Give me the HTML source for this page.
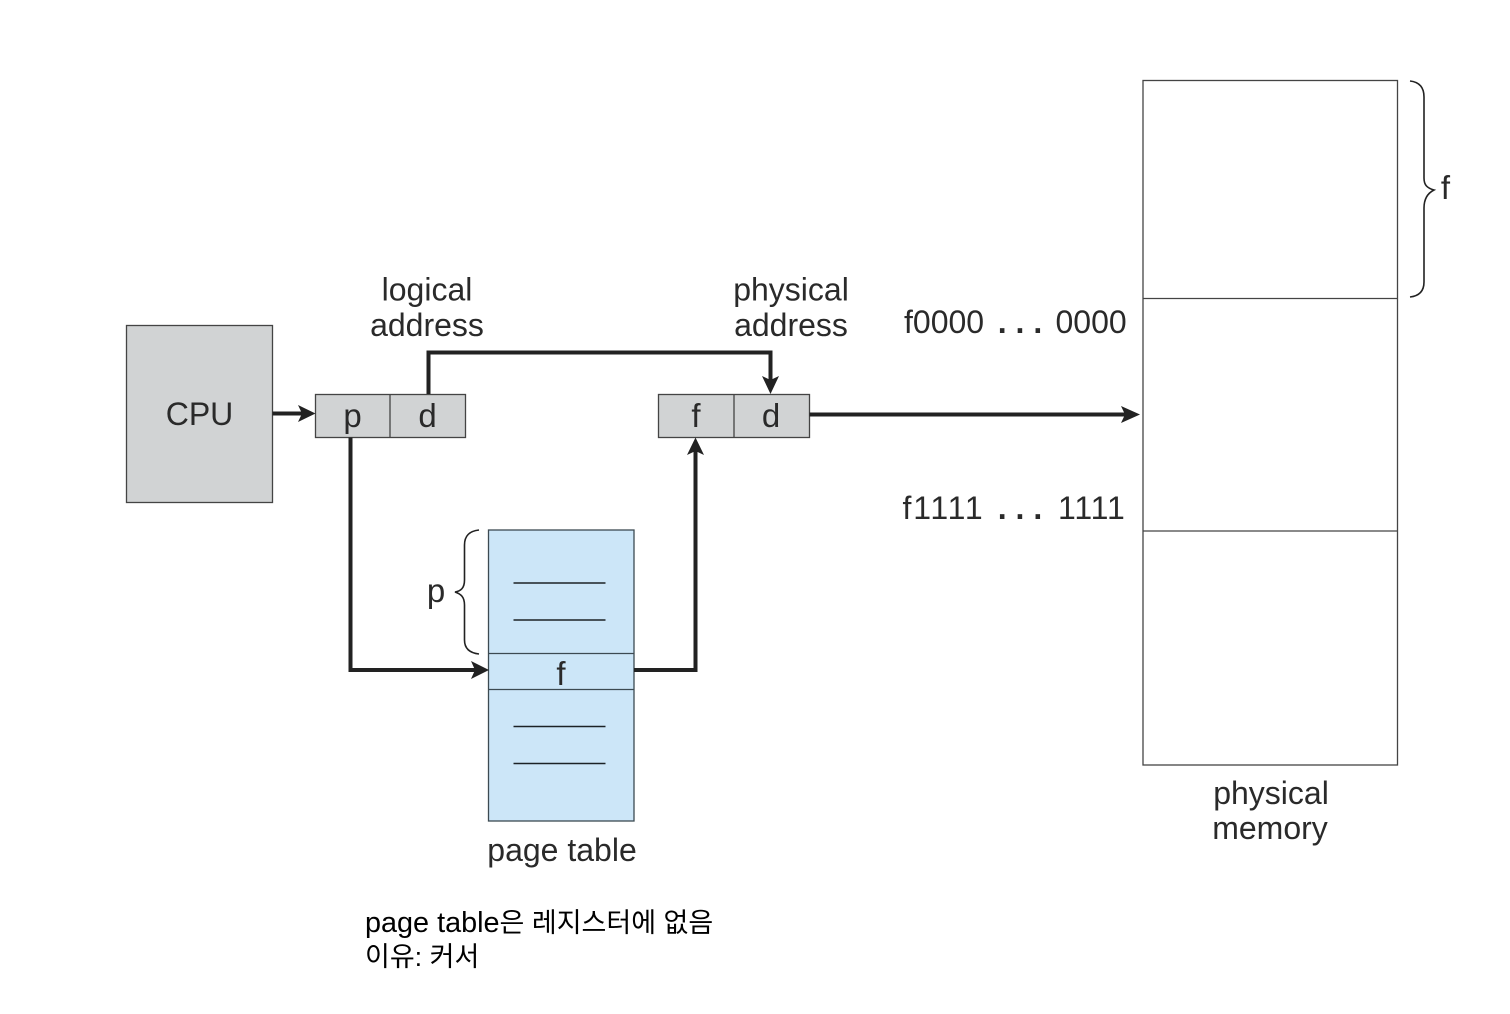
<!DOCTYPE html>
<html lang="ko">
<head>
<meta charset="utf-8">
<title>Paging hardware</title>
<style>
html,body{margin:0;padding:0;background:#fff}
svg{display:block}
text{font-family:"Liberation Sans","Noto Sans CJK KR",sans-serif;fill:#2a2a2a}
</style>
</head>
<body>
<svg width="1510" height="1014" viewBox="0 0 1510 1014" xmlns="http://www.w3.org/2000/svg">
<rect width="1510" height="1014" fill="#fff"/>

<!-- CPU -->
<rect x="126.5" y="325.5" width="146" height="177" fill="#d1d3d4" stroke="#444" stroke-width="1.3"/>
<text x="199.5" y="425" font-size="32" text-anchor="middle">CPU</text>

<!-- logical address box -->
<rect x="315.5" y="394.5" width="150" height="43" fill="#d1d3d4" stroke="#444" stroke-width="1.3"/>
<line x1="390" y1="394.5" x2="390" y2="437.5" stroke="#444" stroke-width="1.3"/>
<text x="352.5" y="427" font-size="33" text-anchor="middle">p</text>
<text x="427.5" y="427" font-size="33" text-anchor="middle">d</text>

<!-- physical address box -->
<rect x="658.5" y="394.5" width="151" height="43" fill="#d1d3d4" stroke="#444" stroke-width="1.3"/>
<line x1="734" y1="394.5" x2="734" y2="437.5" stroke="#444" stroke-width="1.3"/>
<text x="696" y="427" font-size="33" text-anchor="middle">f</text>
<text x="771" y="427" font-size="33" text-anchor="middle">d</text>

<!-- page table -->
<rect x="488.5" y="530" width="145.5" height="291" fill="#cce6f8" stroke="#3c4a52" stroke-width="1.3"/>
<line x1="488.5" y1="653.5" x2="634" y2="653.5" stroke="#3c4a52" stroke-width="1.3"/>
<line x1="488.5" y1="689.5" x2="634" y2="689.5" stroke="#3c4a52" stroke-width="1.3"/>
<g stroke="#1c2226" stroke-width="1.5">
<line x1="513.5" y1="583" x2="605.5" y2="583"/>
<line x1="513.5" y1="620" x2="605.5" y2="620"/>
<line x1="513.5" y1="726.5" x2="605.5" y2="726.5"/>
<line x1="513.5" y1="763.5" x2="605.5" y2="763.5"/>
</g>
<text x="562" y="861" font-size="32" text-anchor="middle">page table</text>
<text x="561" y="685" font-size="33" text-anchor="middle">f</text>

<!-- p brace -->
<path d="M479 530 C470 531 464.5 535 464.5 545 L464.5 580 C464.5 588 461 591 455 592 C461 594 464.5 597 464.5 605 L464.5 640 C464.5 649 470 653 479 654" fill="none" stroke="#222" stroke-width="1.6"/>
<text x="436" y="602" font-size="33" text-anchor="middle">p</text>

<!-- memory -->
<rect x="1143" y="80.5" width="254.5" height="684.5" fill="#fff" stroke="#444" stroke-width="1.3"/>
<line x1="1143" y1="298.5" x2="1397.5" y2="298.5" stroke="#444" stroke-width="1.3"/>
<line x1="1143" y1="531" x2="1397.5" y2="531" stroke="#444" stroke-width="1.3"/>
<text x="1271" y="804" font-size="32" text-anchor="middle">physical</text>
<text x="1270" y="839" font-size="32" text-anchor="middle">memory</text>

<!-- f brace -->
<path d="M1410 81 C1419 82 1424 87 1424 97 L1424 178 C1424 185 1427 188 1434 190 C1428 193 1424 198 1424 208 L1424 282 C1424 291 1419 296 1410 297" fill="none" stroke="#222" stroke-width="1.6"/>
<text x="1445.5" y="199" font-size="33" text-anchor="middle">f</text>

<!-- labels -->
<text x="427" y="300.500" font-size="32" text-anchor="middle">logical</text>
<text x="427" y="336" font-size="32" text-anchor="middle">address</text>
<text x="791" y="300.500" font-size="32" text-anchor="middle">physical</text>
<text x="791" y="336" font-size="32" text-anchor="middle">address</text>
<text x="904" y="333" font-size="32">f0000</text>
<text x="1020" y="333" font-size="32" text-anchor="middle" font-weight="bold">. . .</text>
<text x="1055.500" y="333" font-size="32">0000</text>
<text x="902.500" y="519" font-size="32" letter-spacing="1.800">f1111</text>
<text x="1020" y="519" font-size="32" text-anchor="middle" font-weight="bold">. . .</text>
<text x="1058" y="519" font-size="32" letter-spacing="0.900">1111</text>

<!-- connectors -->
<g fill="none" stroke="#222" stroke-width="4">
<line x1="272.5" y1="413.5" x2="304" y2="413.5"/>
<path d="M428.500 394 L428.500 352.500 L770.500 352.500 L770.500 381"/>
<path d="M350.500 437.500 L350.500 670 L478 670"/>
<path d="M634 670 L695.500 670 L695.500 450"/>
<line x1="809.500" y1="414.500" x2="1127" y2="414.500"/>
</g>
<g fill="#222">
<path d="M315.500 413.500 L298 405 L302 413.500 L298 422 Z"/>
<path d="M770.500 394 L762 376 L770.500 380 L779 376 Z"/>
<path d="M489 670 L471 661 L475 670 L471 679 Z"/>
<path d="M695.500 437.500 L687 455 L695.500 451 L704 455 Z"/>
<path d="M1140 414.500 L1121 406 L1125 414.500 L1121 423 Z"/>
</g>

<!-- note -->
<text x="365" y="932" font-size="27" style="fill:#000"><tspan font-size="28.800">page table</tspan>은 레지스터에 없음</text>
<text x="365" y="966" font-size="27" style="fill:#000">이유: 커서</text>
</svg>
</body>
</html>
